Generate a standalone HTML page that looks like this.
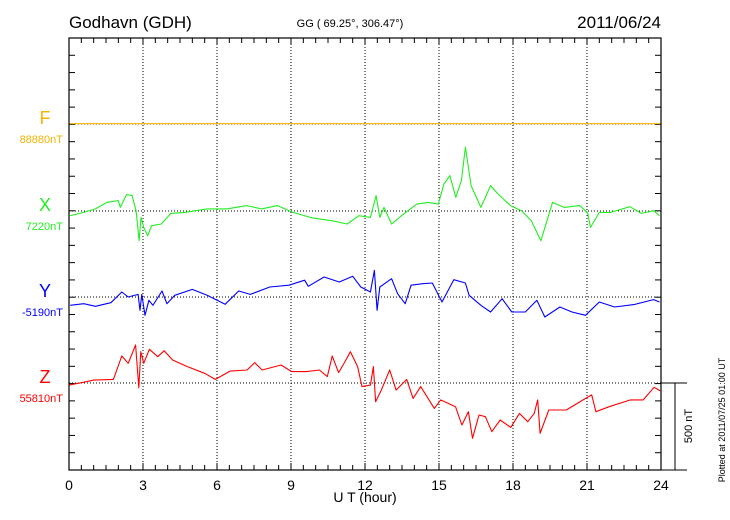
<!DOCTYPE html>
<html><head><meta charset="utf-8"><style>
html,body{margin:0;padding:0;background:#fff;}
svg{display:block;font-family:"Liberation Sans",sans-serif;}
</style></head><body>
<svg id="chart" width="730" height="520" viewBox="0 0 730 520">
<text x="69" y="28" font-size="17">Godhavn (GDH)</text>
<text x="350" y="27" font-size="11" text-anchor="middle">GG ( 69.25°, 306.47°)</text>
<text x="661" y="28" font-size="17" text-anchor="end">2011/06/24</text>
<text x="365" y="502" font-size="14" text-anchor="middle">U T (hour)</text>
<text transform="translate(692,426) rotate(-90)" font-size="11" text-anchor="middle">500 nT</text>
<text transform="translate(725,420) rotate(-90)" font-size="9" text-anchor="middle">Plotted at 2011/07/25 01:00 UT</text>
<g id="plot"></g>
</svg>
<script>
const xTicks = [0,3,6,9,12,15,18,21,24];
const compNames = ["F","X","Y","Z"];
const compBase = ["88880nT","7220nT","-5190nT","55810nT"];
const compColors = ["#f5b400","#22ee22","#0000ff","#ff0000"];
const fHours = [0,24];
const fVals = [2,2];
const xHours = [0.05,0.6,1.07,1.54,2.0,2.08,2.33,2.56,2.72,2.84,2.92,3.03,3.19,3.35,3.74,4.13,4.68,5.6,6.4,7.2,7.8,8.45,9.08,9.86,10.65,11.28,11.75,12.22,12.45,12.6,12.77,13.08,13.48,14.1,14.57,14.97,15.2,15.44,15.68,15.91,16.07,16.3,16.7,17.09,17.4,17.9,18.35,18.74,19.13,19.6,20.07,20.7,21.02,21.14,21.5,21.96,22.74,23.2,23.7,23.94];
const xVals = [-27,-8,12,50,60,21,95,89,2,-172,-37,-95,-143,-85,-75,-14,-8,12,12,31,12,31,-8,-40,-56,-75,-27,-37,89,-37,21,-75,-27,40,50,40,156,205,79,176,369,147,21,147,98,31,2,-56,-172,50,21,31,-8,-95,-8,-8,25,-14,2,-27];
const yHours = [0.05,0.6,1.07,1.7,2.14,2.4,2.8,2.88,2.95,3.08,3.24,3.4,3.77,3.97,4.29,5.0,5.6,6.33,6.88,7.35,8.14,8.92,9.55,9.7,10.34,10.96,11.5,11.83,12.22,12.38,12.49,12.6,13.08,13.32,13.63,13.87,14.34,14.73,15.12,15.6,16.07,16.22,16.7,17.09,17.56,17.95,18.5,18.97,19.29,19.9,20.39,20.94,21.5,22.12,22.9,23.7,23.94];
const yVals = [-48,-39,-54,-33,29,0,15,-77,15,-106,-19,-48,35,-39,10,44,10,-42,35,15,58,68,97,62,116,87,120,58,29,154,-77,58,106,19,-39,68,77,81,-29,100,81,10,-48,-87,-10,-87,-87,-19,-116,-58,-87,-106,-29,-58,-44,-15,-29];
const zHours = [0,0.5,1.0,1.8,2.14,2.4,2.7,2.83,2.91,3.03,3.26,3.6,3.86,4.2,4.8,5.5,5.93,6.53,7.22,7.53,7.83,8.6,9.03,9.64,10.15,10.47,10.67,10.93,11.19,11.41,11.7,11.88,12.22,12.34,12.43,12.66,13.0,13.26,13.69,13.95,14.26,14.81,15.07,15.67,15.93,16.19,16.36,16.62,16.88,17.14,17.48,17.91,18.26,18.6,18.86,19.0,19.1,19.45,20.16,20.84,21.19,21.36,21.9,22.76,23.28,23.72,23.97];
const zVals = [-12,2,17,21,156,114,220,-27,181,114,195,152,187,133,95,56,21,69,75,118,75,104,66,66,75,37,156,60,124,181,95,-21,-12,95,-108,-41,75,-41,21,-89,-21,-147,-98,-137,-243,-166,-320,-185,-195,-282,-214,-257,-176,-224,-176,-98,-291,-156,-156,-98,-69,-166,-137,-98,-98,-25,-46];

const L=69,R=661,T=38,B=470,NS="http://www.w3.org/2000/svg";
const baseY=[124,211,297,383];
const pxPerNT=86.4/500;
function xs(h){return L+(R-L)*h/24;}
function ys(i,v){return baseY[i]-v*pxPerNT;}
const g=document.getElementById('plot');
function mk(tag,attrs){const e=document.createElementNS(NS,tag);for(const k in attrs)e.setAttribute(k,attrs[k]);g.appendChild(e);return e;}

xTicks.forEach(h=>{
  if(h>0&&h<24){
    const l=mk('line',{x1:xs(h),x2:xs(h),y1:T,y2:B,stroke:'#000','stroke-width':1,'stroke-dasharray':'1,2'});
    
    
  }
  const t=mk('text',{x:xs(h),y:490,'font-size':14,'text-anchor':'middle'});
  t.textContent=h;
  
  
});
for(let k=0;k<=48;k++){
  const x=xs(k/2),len=(k%6===0)?7:5;
  const a=mk('line',{x1:x,x2:x,y1:B,y2:B-len,stroke:'#000'});
  
  
  const b=mk('line',{x1:x,x2:x,y1:T,y2:T+len,stroke:'#000'});
  
  
}
for(let k=0;k<=25;k++){
  const y=T+k*(B-T)/25;
  const a=mk('line',{x1:L,x2:L+6,y1:y,y2:y,stroke:'#000'});
  
  
  const b=mk('line',{x1:R,x2:R-6,y1:y,y2:y,stroke:'#000'});
  
  
}
baseY.forEach((y,i)=>{
  const l=mk('line',{x1:L,x2:R,y1:y,y2:y,stroke:'#000','stroke-dasharray':'1,2'});
  
  
  const t=mk('text',{x:45,y:y,'font-size':18,'text-anchor':'middle',fill:compColors[i]});
  t.textContent=compNames[i];
  
  
  const v=mk('text',{x:63,y:y+19,'font-size':11,'text-anchor':'end',fill:compColors[i]});
  v.textContent=compBase[i];
  
  
});
const series=[[fHours,fVals],[xHours,xVals],[yHours,yVals],[zHours,zVals]];
series.forEach((s,i)=>{
  const pts=s[0].map((h,j)=>xs(h).toFixed(1)+','+ys(i,s[1][j]).toFixed(1)).join(' ');
  const p=mk('polyline',{points:pts,fill:'none',stroke:compColors[i],'stroke-width':1.1,'stroke-linejoin':'round'});
  
  
});
const fr=mk('rect',{x:L,y:T,width:R-L,height:B-T,fill:'none',stroke:'#000','stroke-width':1.2});


const sb1=mk('line',{x1:R,x2:687,y1:baseY[3],y2:baseY[3],stroke:'#000'});


const sb2=mk('line',{x1:R,x2:687,y1:B,y2:B,stroke:'#000'});


const sb3=mk('line',{x1:675,x2:675,y1:baseY[3],y2:B,stroke:'#000'});


</script>
</body></html>
